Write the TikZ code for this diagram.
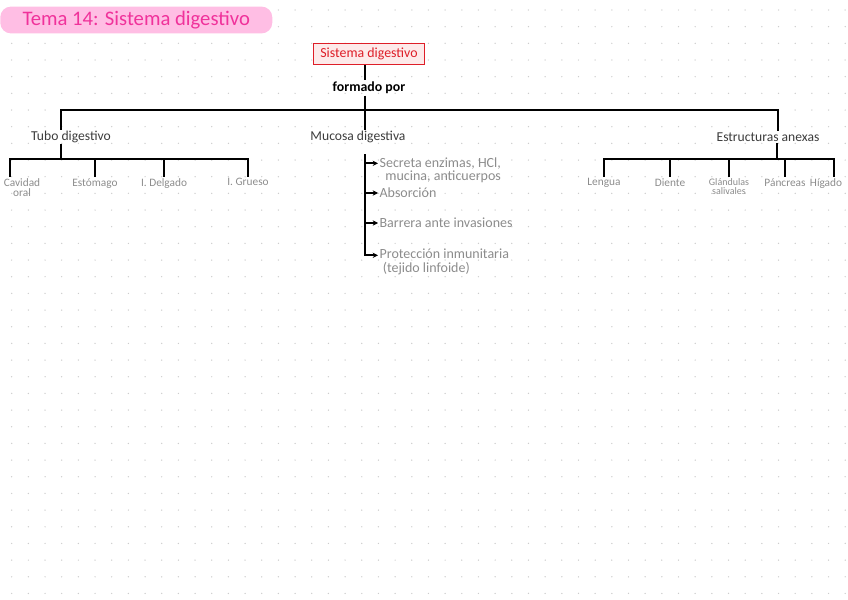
\documentclass[tikz,border=0pt]{standalone}
\usepackage{fontspec}
\setmainfont{Carlito}
\usetikzlibrary{arrows.meta,positioning,calc}
\definecolor{titlepink}{RGB}{240,50,155}
\definecolor{pillpink}{RGB}{255,190,228}
\definecolor{boxred}{RGB}{222,30,40}
\definecolor{boxfill}{RGB}{253,234,234}
\definecolor{inkdark}{RGB}{60,60,60}
\definecolor{inkgrey}{RGB}{140,140,140}
\definecolor{dotgrey}{RGB}{205,205,205}

\begin{document}
\begin{tikzpicture}[x=0.75pt, y=-0.75pt,
    titlepill/.style={fill=pillpink, rounded corners=8pt, minimum width=204pt,
        minimum height=16.5pt, inner xsep=6pt, text=titlepink,
        font=\fontsize{15.5}{15.5}\selectfont, anchor=west},
    rootbox/.style={draw=boxred, fill=boxfill, line width=1pt, text=boxred,
        font=\fontsize{10.4}{11}\selectfont, inner xsep=5pt, inner ysep=3.5pt},
    branch/.style={text=inkdark, font=\fontsize{10.2}{11}\selectfont, inner sep=1pt},
    leaf/.style={text=inkgrey, font=\fontsize{8.5}{7.5}\selectfont, align=center,
        inner sep=1pt, anchor=north},
    item/.style={text=inkgrey, font=\fontsize{10.5}{10}\selectfont, align=right,
        anchor=west, inner sep=1pt},
    tree/.style={line width=1.3pt},
    >={Stealth[length=4pt,width=4pt]}
]
\useasboundingbox (0,0) rectangle (848,599);

% dotted paper
\foreach \i in {0,...,50}
  \foreach \j in {0,...,35}
    \fill[dotgrey] (11.7+16.67*\i, 10+16.67*\j) circle (0.55pt);

\node[titlepill] (title) at (0,20) {Tema 14: Sistema digestivo};

\node[rootbox] (sis) at (369,54) {Sistema digestivo};
\node[branch, text=black, font=\bfseries\fontsize{10.4}{11}\selectfont] (formado) at (369,88) {formado por};
\node[branch] (tubo) at (71,137) {Tubo digestivo};
\node[branch] (mucosa) at (358,137) {Mucosa digestiva};
\node[branch] (anexas) at (768,137) {Estructuras anexas};

\coordinate (trunk) at (365,110);
\coordinate (barL) at (61,110);
\coordinate (barR) at (778,110);
\coordinate (tubar) at (61,159);
\coordinate (anbar) at (777,159);
\coordinate (mtop) at (365,154);

\draw[tree] (sis.south -| trunk) -- (formado.north -| trunk);
\draw[tree] (formado.south -| trunk) -- (mucosa.north -| trunk);
\draw[tree] (tubo.north -| barL) -- (barL) -- (barR) -- (anexas.north -| barR);

\node[leaf] (cav) at (22,177) {Cavidad\\oral};
\node[leaf] (est) at (95,177) {Estómago};
\node[leaf] (del) at (164,177) {I. Delgado};
\node[leaf] (gru) at (248,177) {I. Grueso};

\draw[tree] (tubo.south -| tubar) -- (tubar);
\draw[tree] (tubar) -| ([xshift=-9pt]cav.north);
\foreach \n in {est,del,gru}
  \draw[tree] (tubar) -| (\n.north);

\node[leaf] (len) at (604,177) {Lengua};
\node[leaf] (die) at (670,177) {Diente};
\node[leaf, font=\fontsize{7.5}{7}\selectfont] (gla) at (729,177) {Glándulas\\salivales};
\node[leaf] (pan) at (785,177) {Páncreas};
\node[leaf] (hig) at (826,177) {Hígado};

\draw[tree] (anexas.south -| anbar) -- (anbar);
\foreach \n in {len,die,gla,pan}
  \draw[tree] (anbar) -| (\n.north);
\draw[tree] (anbar) -| ([xshift=6pt]hig.north);

\node[item] (sec) at (378,170) {Secreta enzimas, HCl,\\mucina, anticuerpos};
\node[item] (abs) at (378,193) {Absorción};
\node[item] (bar) at (378,223) {Barrera ante invasiones};
\node[item, align=left] (prot) at (378,262) {Protección inmunitaria\\\ (tejido linfoide)};

\draw[tree, ->] (mtop) |- ([yshift=5pt]sec.west);
\draw[tree, ->] (mtop) |- (abs.west);
\draw[tree, ->] (mtop) |- (bar.west);
\draw[tree, ->] (mtop) |- ([yshift=5pt]prot.west);
\end{tikzpicture}
\end{document}
